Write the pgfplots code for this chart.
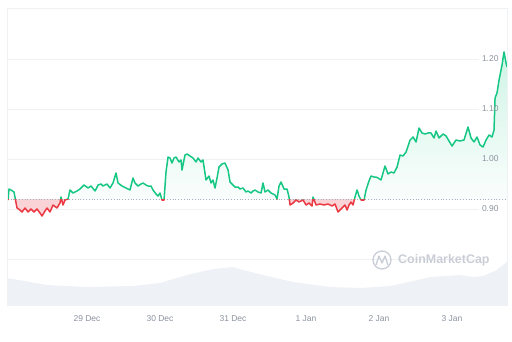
\documentclass[border=0pt]{standalone}
\usepackage{pgfplots}
\pgfplotsset{compat=1.18}
\usepackage{fontspec}
\setmainfont{Liberation Sans}
\definecolor{cmcgreen}{HTML}{16C784}
\definecolor{cmcred}{HTML}{EA3943}
\definecolor{gridc}{HTML}{EFF2F5}
\definecolor{labc}{HTML}{8A919E}
\definecolor{volc}{HTML}{EEF1F5}
\definecolor{basec}{HTML}{A6B0C3}
\definecolor{wmc}{HTML}{C9CED6}

\pgfplotstableread{
x y
-1.082 0.918
-1.068 0.940
-1.041 0.938
-1.000 0.934
-0.959 0.902
-0.918 0.898
-0.890 0.894
-0.849 0.902
-0.808 0.894
-0.767 0.900
-0.726 0.894
-0.685 0.900
-0.644 0.892
-0.616 0.886
-0.575 0.896
-0.548 0.902
-0.507 0.894
-0.466 0.908
-0.411 0.902
-0.370 0.912
-0.356 0.924
-0.329 0.908
-0.301 0.918
-0.260 0.920
-0.233 0.938
-0.192 0.932
-0.137 0.936
-0.096 0.940
-0.041 0.948
0.014 0.942
0.055 0.946
0.110 0.936
0.151 0.948
0.192 0.950
0.219 0.946
0.274 0.950
0.315 0.942
0.356 0.952
0.397 0.972
0.425 0.952
0.479 0.946
0.534 0.942
0.589 0.938
0.630 0.962
0.658 0.952
0.699 0.946
0.740 0.950
0.767 0.952
0.808 0.948
0.836 0.946
0.877 0.946
0.904 0.938
0.945 0.930
0.973 0.926
1.000 0.932
1.027 0.918
1.055 0.918
1.082 0.974
1.110 1.004
1.137 1.002
1.164 0.992
1.192 1.002
1.219 1.004
1.260 0.994
1.288 0.998
1.301 0.978
1.342 1.008
1.370 1.010
1.411 1.006
1.452 1.002
1.493 0.994
1.521 1.002
1.562 0.994
1.589 0.998
1.630 0.958
1.671 0.966
1.699 0.952
1.726 0.958
1.753 0.942
1.781 0.962
1.808 0.984
1.849 0.990
1.890 0.992
1.932 0.978
1.959 0.954
1.986 0.950
2.027 0.944
2.068 0.944
2.096 0.940
2.137 0.942
2.178 0.934
2.205 0.936
2.247 0.932
2.274 0.936
2.301 0.938
2.342 0.934
2.384 0.932
2.411 0.952
2.438 0.934
2.479 0.938
2.521 0.932
2.575 0.928
2.603 0.920
2.630 0.946
2.658 0.954
2.699 0.940
2.740 0.940
2.767 0.924
2.781 0.908
2.822 0.912
2.863 0.918
2.904 0.914
2.959 0.918
3.000 0.908
3.041 0.912
3.082 0.906
3.096 0.924
3.137 0.908
3.192 0.910
3.247 0.908
3.301 0.910
3.356 0.906
3.397 0.910
3.438 0.894
3.466 0.898
3.493 0.902
3.534 0.908
3.562 0.898
3.589 0.908
3.616 0.914
3.644 0.908
3.671 0.924
3.699 0.938
3.726 0.926
3.753 0.918
3.795 0.918
3.822 0.938
3.863 0.956
3.890 0.966
3.932 0.964
3.959 0.964
3.986 0.962
4.027 0.958
4.082 0.986
4.123 0.970
4.164 0.974
4.205 0.972
4.247 0.984
4.288 1.008
4.329 1.006
4.370 1.014
4.425 1.038
4.466 1.044
4.507 1.034
4.548 1.062
4.589 1.052
4.630 1.050
4.671 1.052
4.712 1.052
4.753 1.042
4.781 1.056
4.822 1.042
4.877 1.050
4.918 1.046
4.959 1.036
5.000 1.026
5.055 1.038
5.110 1.036
5.164 1.038
5.219 1.064
5.260 1.042
5.301 1.034
5.342 1.044
5.384 1.028
5.425 1.024
5.466 1.038
5.507 1.048
5.548 1.044
5.575 1.058
5.589 1.122
5.616 1.132
5.644 1.158
5.685 1.188
5.699 1.202
5.712 1.214
5.740 1.192
5.753 1.184
}\price

\pgfplotstableread{
x v
-1.096 27
-0.548 20
0.000 18
0.630 19
1.000 22
1.137 25
1.370 30
1.726 36
2.000 38
2.137 35
2.466 29
2.822 23
3.329 18
3.740 17
4.151 19
4.466 24
4.699 28
5.110 30
5.288 28
5.425 29
5.589 34
5.753 43
}\volume

\pgfplotstableread{
x y
-1.2 0.92
5.9 0.92
}\baseline

\begin{document}
\begin{tikzpicture}[x=1bp,y=1bp]
% volume
\begin{axis}[at={(7bp,36bp)}, anchor=south west, scale only axis,
  width=500bp, height=297bp, xmin=-1.096, xmax=5.753, ymin=0, ymax=297,
  hide axis]
\addplot[fill=volc, draw=none] table[x=x,y=v]{\volume} \closedcycle;
\end{axis}
% price
\begin{axis}[at={(7bp,36bp)}, anchor=south west, scale only axis,
  width=500bp, height=297bp,
  xmin=-1.096, xmax=5.753, ymin=0.708, ymax=1.302,
  axis on top,
  axis line style={draw=gridc},
  xtick={0,1,2,3,4,5},
  xticklabels={29 Dec,30 Dec,31 Dec,1 Jan,2 Jan,3 Jan},
  ytick={0.9,1.0,1.1,1.2},
  yticklabels={0.90,1.00,1.10,1.20},
  yticklabel pos=right,
  major tick length=0pt,
  tick style={draw=none},
  ticklabel style={font=\fontsize{8.5}{10}\selectfont, text=labc},
  xticklabel style={yshift=-7bp},
  yticklabel style={anchor=east, xshift=-5bp},
  /pgf/number format/assume math mode=true,
]
\draw[gridc, line width=0.8bp] (axis cs:-1.096,0.8) -- (axis cs:5.37,0.8);
\draw[gridc, line width=0.8bp] (axis cs:-1.096,0.9) -- (axis cs:5.37,0.9);
\draw[gridc, line width=0.8bp] (axis cs:-1.096,1.0) -- (axis cs:5.37,1.0);
\draw[gridc, line width=0.8bp] (axis cs:-1.096,1.1) -- (axis cs:5.37,1.1);
\draw[gridc, line width=0.8bp] (axis cs:-1.096,1.2) -- (axis cs:5.37,1.2);
\begin{scope}
\clip (axis cs:-2,0.92) rectangle (axis cs:7,1.4);
\addplot[draw=none, top color=cmcgreen!20, bottom color=white] table{\price} -- (axis cs:5.753,0.92) -- (axis cs:-1.082,0.92) -- cycle;
\end{scope}
\begin{scope}
\clip (axis cs:-2,0.6) rectangle (axis cs:7,0.92);
\addplot[draw=none, fill=cmcred!22] table{\price} -- (axis cs:5.753,0.92) -- (axis cs:-1.082,0.92) -- cycle;
\end{scope}
\addplot[basec, dotted, line width=0.8bp] table{\baseline};
\begin{scope}
\clip (axis cs:-2,0.92) rectangle (axis cs:7,1.4);
\addplot[cmcgreen, line width=1.5bp, line join=round] table{\price};
\end{scope}
\begin{scope}
\clip (axis cs:-2,0.6) rectangle (axis cs:7,0.92);
\addplot[cmcred, line width=1.5bp, line join=round] table{\price};
\end{scope}
\end{axis}
% watermark
\draw[wmc, line width=1.3bp] (382,81) circle (9);
\draw[wmc, line width=1.3bp, line join=round] (376,76) -- (379,85) -- (382,78) -- (385,85) -- (388,76);
\node[anchor=west, text=wmc, font=\fontsize{12.5}{14}\selectfont\bfseries, inner sep=0] at (398,81) {CoinMarketCap};
\path (0,0) rectangle (512,341);
\end{tikzpicture}
\end{document}
